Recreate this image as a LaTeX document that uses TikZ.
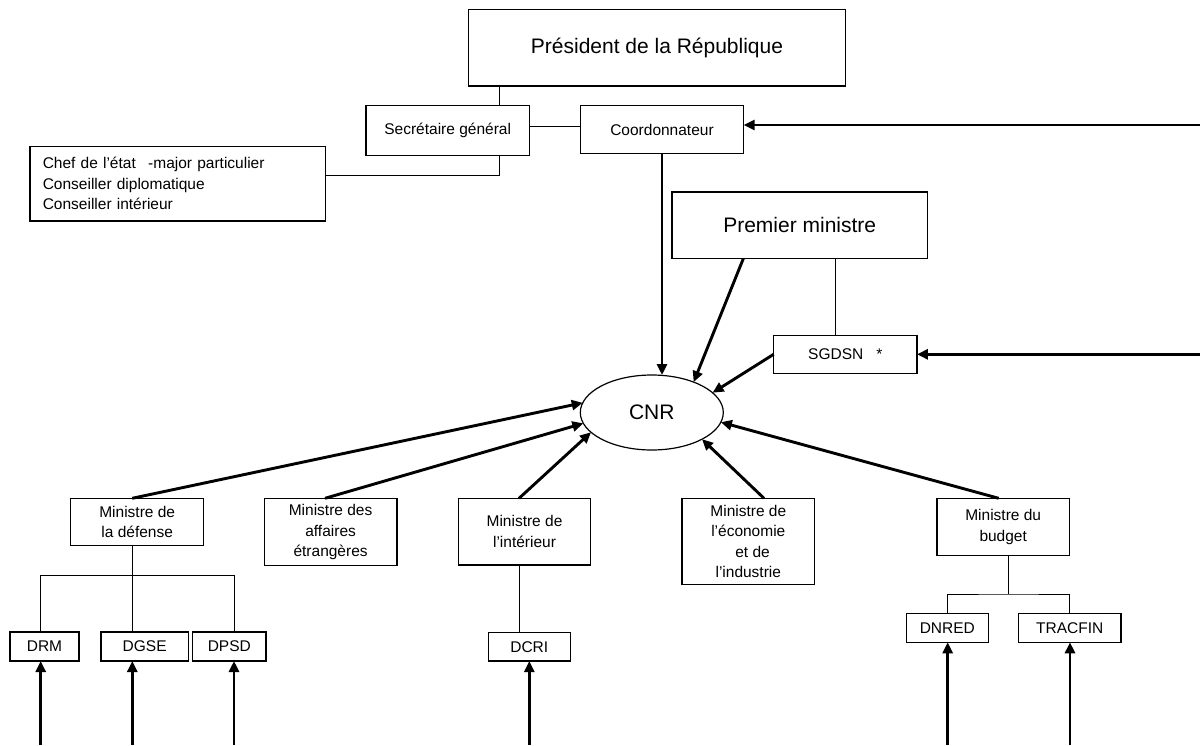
\documentclass[tikz,border=0pt]{standalone}
\usepackage{fontspec}
\setmainfont{Liberation Sans}
\usetikzlibrary{arrows.meta,shapes.geometric}
\begin{document}
\begin{tikzpicture}[x=1pt,y=-1pt,
  box/.style={draw,line width=1.2pt,rectangle,inner sep=0pt,outer sep=0pt,align=center},
  small/.style={font=\fontsize{15.5}{20.5}\selectfont},
  big/.style={font=\fontsize{21}{25}\selectfont},
  thin/.style={line width=1pt},
  thickarrow/.style={line width=2.9pt,-{Triangle[length=11pt,width=10pt]}}
]
\useasboundingbox (0,0) rectangle (1200,745);

% top level
\node[box,big,minimum width=377.4,minimum height=76.7] (pres) at (657,47.7) {Président de la République};
\node[box,small,minimum width=163.3,minimum height=50] (sec) at (447.7,130.7) {Secrétaire général};
\node[box,small,minimum width=163.4,minimum height=47.6] (coord) at (662,129.5) {Coordonnateur};
\node[box,small,minimum width=295.7,minimum height=74.3,text width=270,align=left] (chef) at (177.8,183.8)
  {Chef de l’état\hspace{0.8em}-major particulier\\Conseiller diplomatique\\Conseiller intérieur};

\node[box,big,minimum width=255.3,minimum height=66.7] (pm) at (799.7,225.3) {Premier ministre};
\node[box,small,minimum width=143.3,minimum height=38] (sgdsn) at (845.3,354.3) {SGDSN\hspace{13pt}*};
\node[draw,line width=1.2pt,ellipse,inner sep=0pt,outer sep=0pt,minimum width=143,minimum height=75,big] (cnr) at (651.8,412.5) {CNR};

% ministers
\node[box,small,minimum width=133,minimum height=47.4] (def) at (137.2,522) {Ministre de\\la défense};
\node[box,small,minimum width=132.6,minimum height=67.4] (aff) at (330.6,532) {Ministre des\\affaires\\étrangères};
\node[box,small,minimum width=132.4,minimum height=66.7] (int) at (524.5,531.7) {Ministre de\\l’intérieur};
\node[box,small,minimum width=132.7,minimum height=86] (eco) at (748.3,541.3) {Ministre de\\l’économie\\\ \ et de\\l’industrie};
\node[box,small,minimum width=132.3,minimum height=57.4] (bud) at (1003.2,527) {Ministre du\\budget};

% services
\node[box,small,minimum width=69,minimum height=29] (drm) at (44.5,646.5) {DRM};
\node[box,small,minimum width=87.3,minimum height=29] (dgse) at (144.7,646.5) {DGSE};
\node[box,small,minimum width=73.3,minimum height=29] (dpsd) at (229.3,646.5) {DPSD};
\node[box,small,minimum width=82,minimum height=28.7] (dcri) at (529.3,646.7) {DCRI};
\node[box,small,minimum width=82,minimum height=29] (dnred) at (947.3,627.8) {DNRED};
\node[box,small,minimum width=102.3,minimum height=29] (tracfin) at (1069.8,627.8) {TRACFIN};

% free ends
\coordinate (r1) at (1200,125);
\coordinate (r2) at (1200,354.3);
\coordinate (b1) at (40.7,745);
\coordinate (b2) at (132.3,745);
\coordinate (b3) at (234,745);
\coordinate (b4) at (529.3,745);
\coordinate (b5) at (947.7,745);
\coordinate (b6) at (1070,745);
\coordinate (dj) at (132.3,575);
\coordinate (bj) at (1008.7,594);

% thin connectors
\draw[thin] ([xshift=52]sec.north) -- ([xshift=52]sec.north |- pres.south);
\draw[thin] ([xshift=52]sec.south) |- ([yshift=8.8]chef.east);
\draw[thin] ([yshift=4]sec.east) -- ([yshift=4]sec.east -| coord.west);
\draw[thin] ([xshift=-10]sgdsn.north) -- ([xshift=-10]sgdsn.north |- pm.south);
\draw[thin] ([xshift=-4.9]def.south) -- (b2 |- dgse.north);
\draw[thin] (b1 |- drm.north) |- (dj);
\draw[thin] (b3 |- dpsd.north) |- (dj);
\draw[thin] ([xshift=-5.5]int.south) -- ([xshift=-5.5]int.south |- dcri.north);
\draw[thin] ([xshift=5.5]bud.south) -- (bj);
\draw[thin] (dnred.north) |- (bj) -| (tracfin.north);

% thick arrows
\draw[thickarrow] (r1) -- (r1 -| coord.east);
\draw[thickarrow] (r2) -- (r2 -| sgdsn.east);
\draw[thickarrow] (coord.south) -- (coord.south |- cnr.north);
\draw[thickarrow] ([xshift=-56.4]pm.south) -- (cnr.36);
\draw[thickarrow] (sgdsn.west) -- (cnr.18);
\draw[thickarrow] ([xshift=-5]def.north) -- (cnr.172.7);
\draw[thickarrow] ([xshift=-5.6]aff.north) -- (cnr.189.6);
\draw[thickarrow] ([xshift=-5.5]int.north) -- (cnr.198);
\draw[thickarrow] ([xshift=15.7]eco.north) -- (cnr.332);
\draw[thickarrow] ([xshift=-4.5]bud.north) -- (cnr.352.7);

\draw[thickarrow] (b1) -- (b1 |- drm.south);
\draw[thickarrow] (b2) -- (b2 |- dgse.south);
\draw[thickarrow] (b3) -- (b3 |- dpsd.south);
\draw[thickarrow] (b4) -- (dcri.south);
\draw[thickarrow] (b5) -- (b5 |- dnred.south);
\draw[thickarrow] (b6) -- (b6 |- tracfin.south);
\end{tikzpicture}
\end{document}
